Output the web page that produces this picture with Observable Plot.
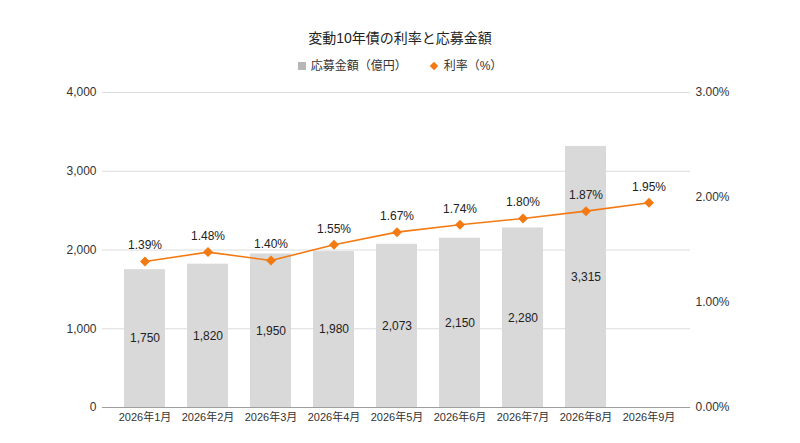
<!DOCTYPE html>
<html><head><meta charset="utf-8">
<script src="https://cdn.jsdelivr.net/npm/d3@7"></script>
<script src="https://cdn.jsdelivr.net/npm/@observablehq/plot@0.6"></script>
<style>
body{margin:0;background:#fff;font-family:"Liberation Sans","Noto Sans CJK JP",Arial,sans-serif;color:#333;}
#title{margin-top:29px;height:18px;line-height:18px;text-align:center;font-size:14px;color:#222;}
#legend{margin-top:10px;height:18px;line-height:18px;text-align:center;font-size:12px;color:#333;display:flex;justify-content:center;align-items:center;gap:0;}
.sw{display:inline-block;width:8px;height:8px;background:#b7b7b7;margin-right:5px;}
.dm{display:inline-block;width:6px;height:6px;background:#f37a12;transform:rotate(45deg);margin-right:7px;margin-left:24px;}
</style></head>
<body>
<div id="title">変動10年債の利率と応募金額</div>
<div id="legend"><span class="sw"></span><span>応募金額（億円）</span><span class="dm"></span><span>利率（%）</span></div>
<div id="chart"></div>
<script>
const months = ["2026年1月","2026年2月","2026年3月","2026年4月","2026年5月","2026年6月","2026年7月","2026年8月","2026年9月"];
const amounts = [1750,1820,1950,1980,2073,2150,2280,3315,null];
const rates = [1.39,1.48,1.40,1.55,1.67,1.74,1.80,1.87,1.95];
const leftTicks = [0,1000,2000,3000,4000];
const rightTicks = [0,1,2,3];
const leftMax = 4000, rightMax = 3;
const ratio = leftMax / rightMax;
const orange = "#f37a12";

const data = months.map((m,i)=>({month:m, amount:amounts[i], rate:rates[i]}));
const barData = data.filter(d=>d.amount != null);

const chart = Plot.plot({
  width: 800,
  height: 368,
  marginTop: 17,
  marginBottom: 36,
  marginLeft: 102,
  marginRight: 110,
  style: {fontFamily: '"Liberation Sans","Noto Sans CJK JP",Arial,sans-serif', fontSize: "12px", color: "#333"},
  x: {domain: months, paddingInner: 0.35, paddingOuter: 0.34, label: null},
  y: {domain: [0, leftMax], label: null},
  marks: [
    Plot.ruleY(leftTicks.filter(t=>t>0), {stroke: "#dcdcdc", strokeWidth: 1}),
    Plot.ruleY([0], {stroke: "#9e9e9e", strokeWidth: 1}),
    Plot.barY(barData, {x: "month", y: "amount", fill: "#d9d9d9"}),
    Plot.text(barData, {x: "month", y: d=>d.amount/2, text: d=>d3.format(",")(d.amount), fontSize: 12, fill: "#222"}),
    Plot.line(data, {x: "month", y: d=>d.rate*ratio, stroke: orange, strokeWidth: 1.6}),
    Plot.dot(data, {x: "month", y: d=>d.rate*ratio, symbol: "diamond2", r: 4.5, fill: orange, stroke: "none"}),
    Plot.text(data, {x: "month", y: d=>d.rate*ratio, text: d=>d.rate.toFixed(2)+"%", dy: -16, fontSize: 12, fill: "#222"}),
    Plot.axisY(leftTicks, {anchor: "left", tickSize: 0, tickPadding: 6, tickFormat: d3.format(","), label: null, fontSize: 12}),
    Plot.axisY(rightTicks.map(t=>t*ratio), {anchor: "right", tickSize: 0, tickPadding: 5, tickFormat: d=>(d/ratio).toFixed(2)+"%", label: null, fontSize: 12}),
    Plot.axisX({anchor: "bottom", tickSize: 0, tickPadding: 6, label: null, fontSize: 11})
  ]
});
document.getElementById("chart").appendChild(chart);
</script>
</body></html>
